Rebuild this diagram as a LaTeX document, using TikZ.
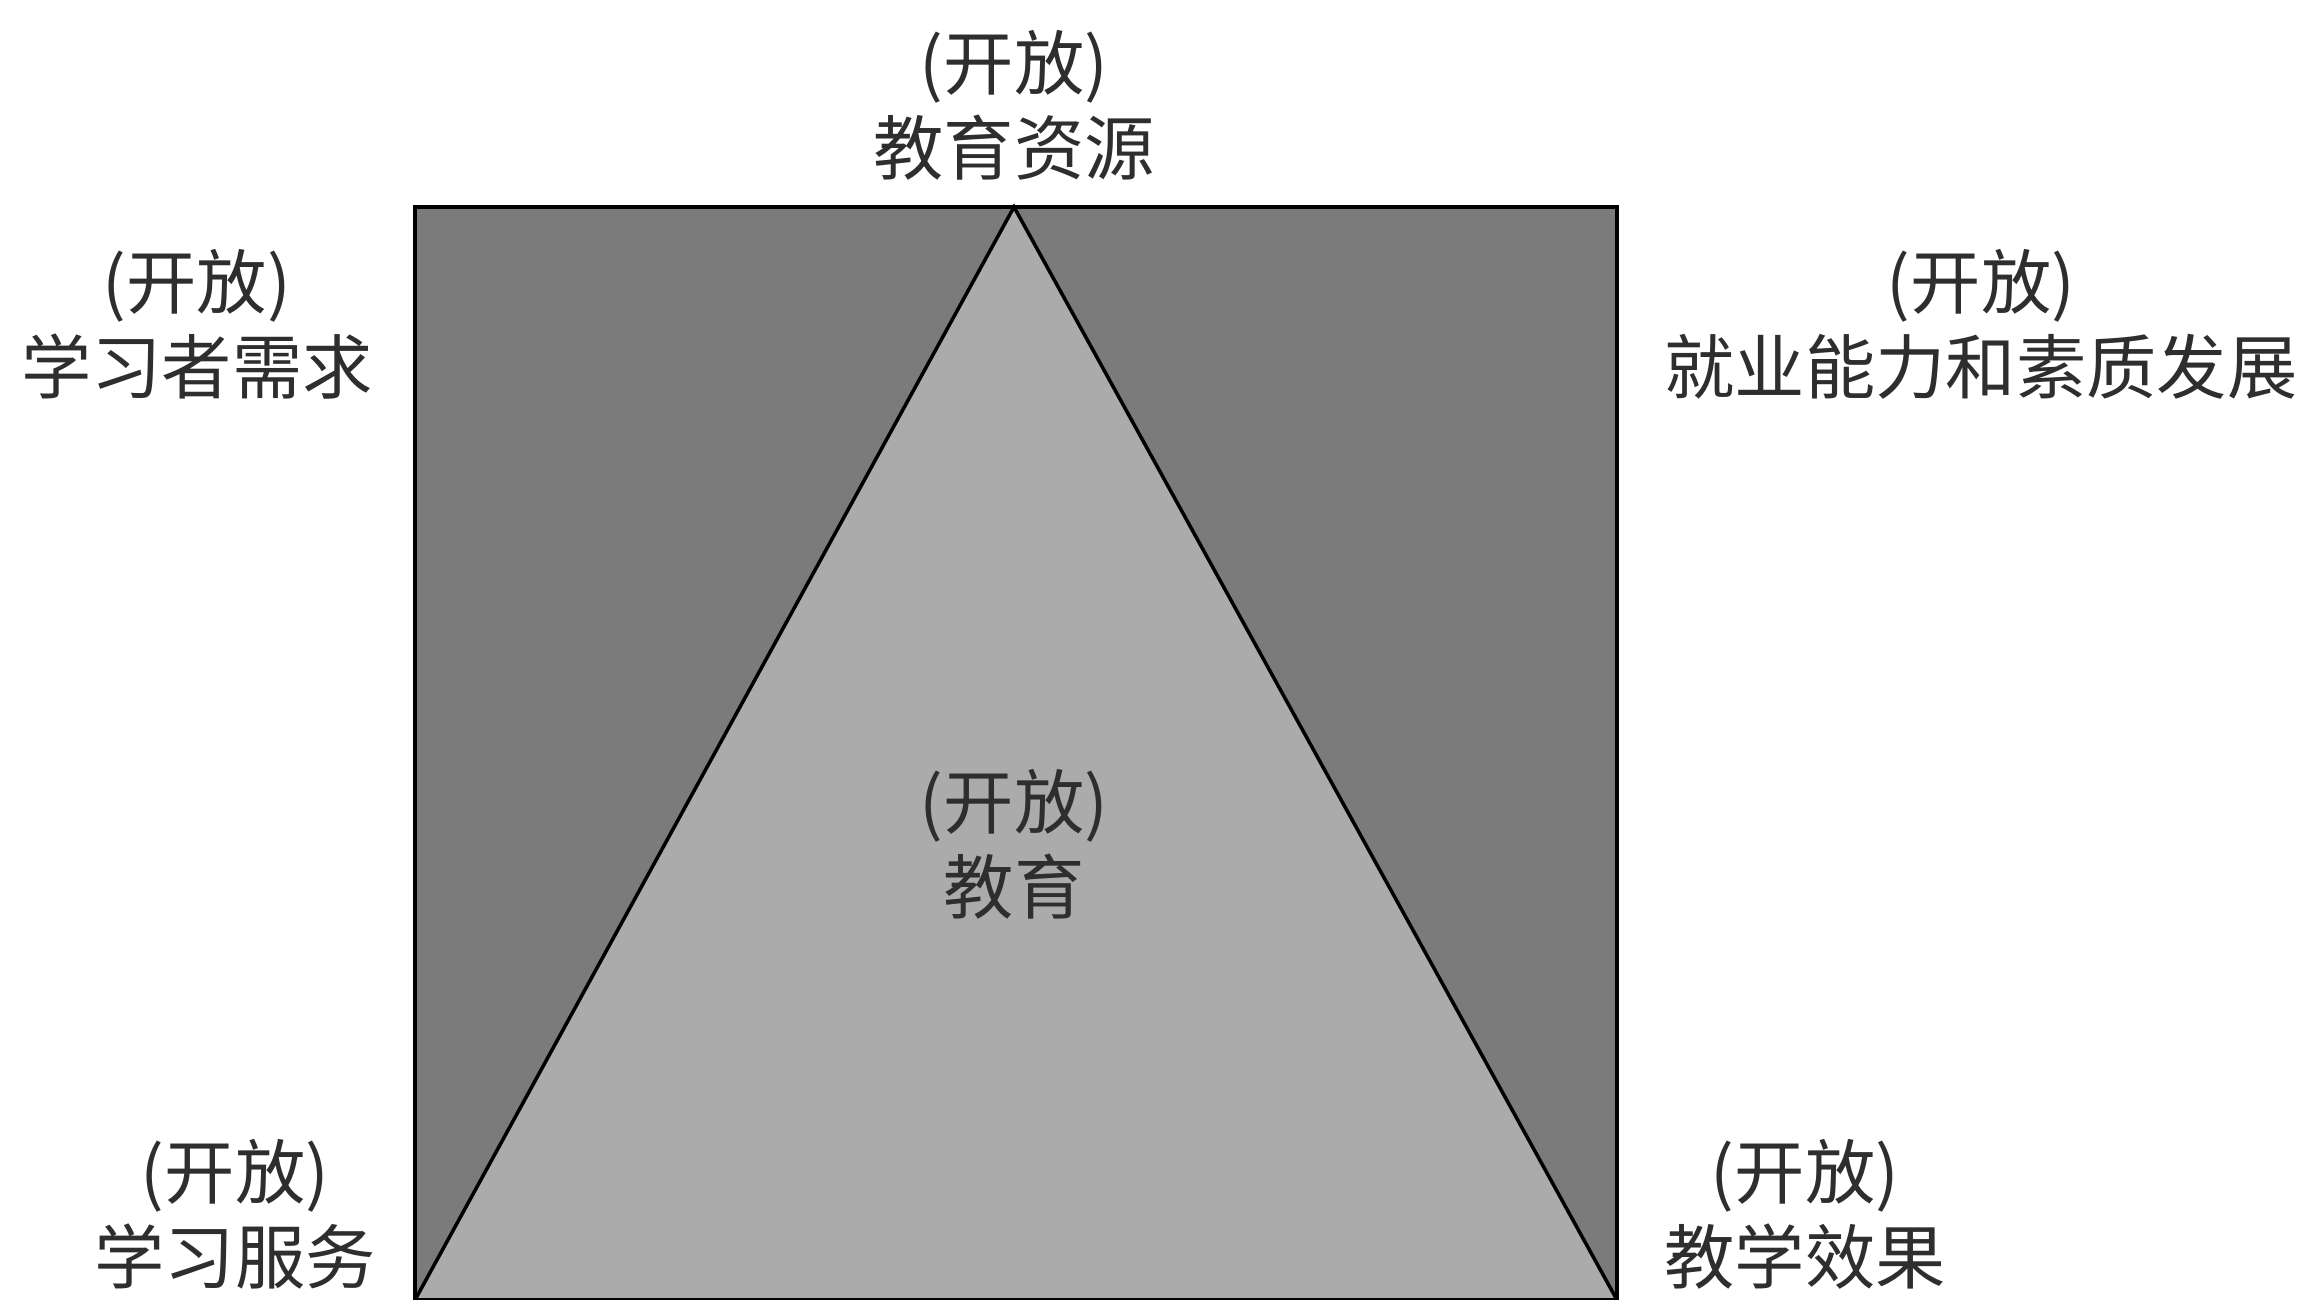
\documentclass[tikz,border=0pt]{standalone}
\usepackage{fontspec}
\setmainfont{Noto Sans CJK SC}
\usetikzlibrary{positioning}
\definecolor{outergray}{HTML}{7B7B7B}
\definecolor{innergray}{HTML}{ABABAB}
\definecolor{textgray}{HTML}{2E2E2E}
\tikzset{
  tag/.style={align=center, inner sep=0pt, text=textgray, font=\fontsize{20}{24.2}\selectfont},
  frame/.style={draw=black, line width=1.1pt, fill=outergray},
  wedge/.style={draw=black, line width=1pt, fill=innergray, line join=miter}
}
\begin{document}
\begin{tikzpicture}
  \useasboundingbox (0,0) rectangle (23.05,13);
  % square and triangle
  \coordinate (bl) at (4.15,0);
  \coordinate (tr) at (16.17,10.93);
  \coordinate (br) at (16.17,0);
  \coordinate (apex) at (10.14,10.93);
  \draw[frame] (bl) rectangle (tr);
  \draw[wedge] (bl) -- (apex) -- (br) -- cycle;
  % labels
  \node[tag] (res) at (10.14,11.95) {(开放)\\教育资源};
  \node[tag] (need) at (1.97,9.76) {(开放)\\学习者需求};
  \node[tag] (dev) at (19.81,9.76) {(开放)\\就业能力和素质发展};
  \node[tag] (edu) at (10.14,4.56) {(开放)\\教育};
  \node[tag] (serv) at (2.35,0.86) {(开放)\\学习服务};
  \node[tag] (eff) at (18.05,0.86) {(开放)\\教学效果};
\end{tikzpicture}
\end{document}
